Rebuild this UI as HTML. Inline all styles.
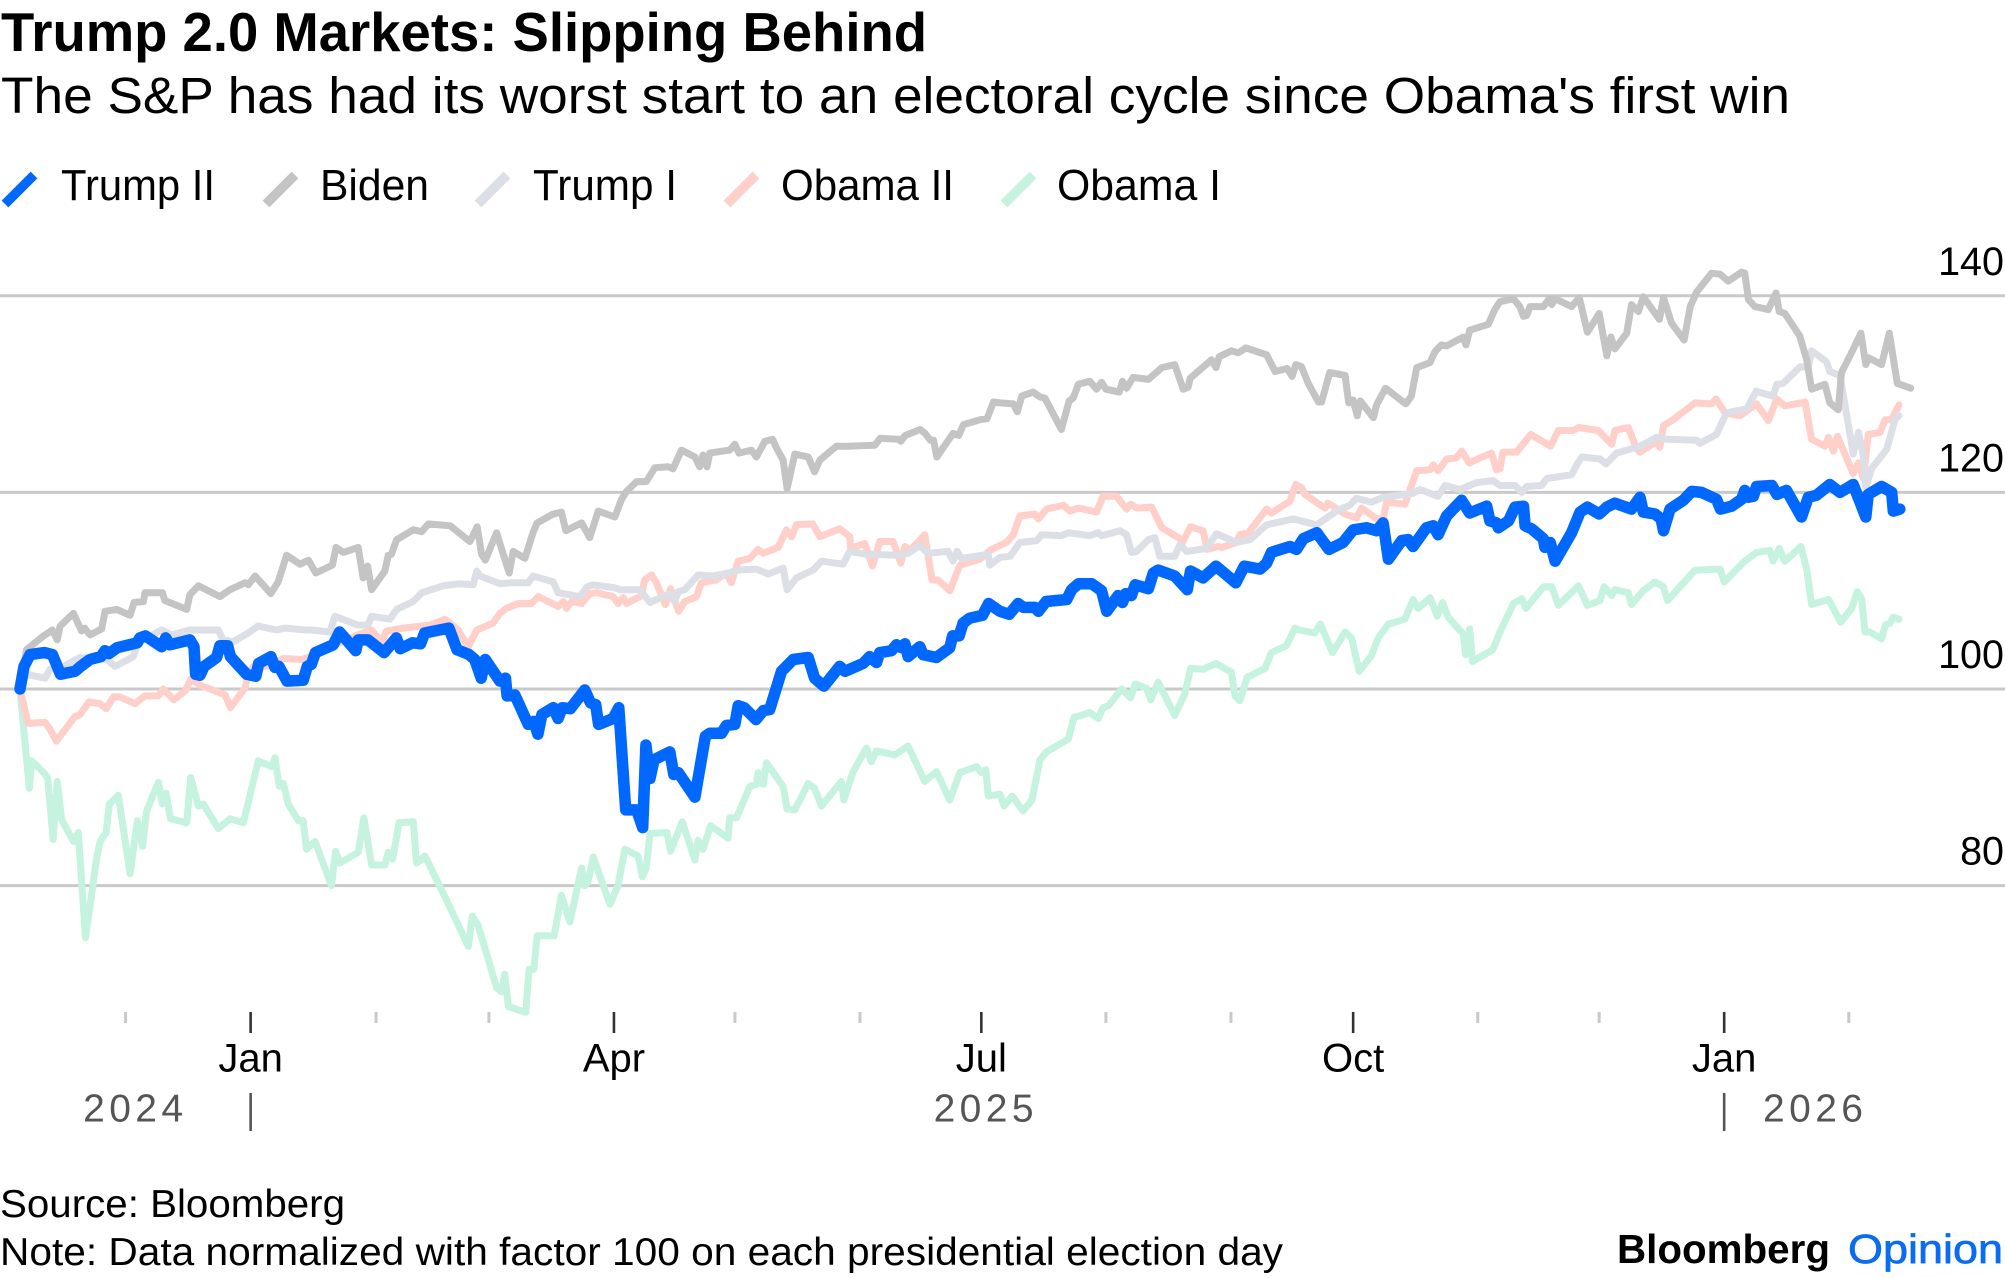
<!DOCTYPE html>
<html lang="en">
<head>
<meta charset="utf-8">
<title>Trump 2.0 Markets: Slipping Behind</title>
<style>
html,body{margin:0;padding:0;background:#fff;width:2005px;height:1278px;overflow:hidden}
svg{display:block}
text{font-family:"Liberation Sans",sans-serif}
</style>
</head>
<body>
<svg id="chart" xmlns="http://www.w3.org/2000/svg" width="2005" height="1278" viewBox="0 0 2005 1278">
  <rect x="0" y="0" width="2005" height="1278" fill="#fff"/>
  <text x="1" y="51" font-size="55" font-weight="700" fill="#000" textLength="926" lengthAdjust="spacingAndGlyphs">Trump 2.0 Markets: Slipping Behind</text>
  <text x="1" y="113" font-size="51" fill="#000" textLength="1789" lengthAdjust="spacingAndGlyphs">The S&amp;P has had its worst start to an electoral cycle since Obama's first win</text>

  <g>
    <g>
      <line x1="5" y1="204" x2="34" y2="175" stroke="#0068ff" stroke-width="9.5"/>
      <text x="61" y="200" font-size="44" textLength="154" lengthAdjust="spacingAndGlyphs">Trump II</text>
    </g>
    <g>
      <line x1="266" y1="204" x2="295" y2="175" stroke="#c4c4c4" stroke-width="9.5"/>
      <text x="320" y="200" font-size="44" textLength="109" lengthAdjust="spacingAndGlyphs">Biden</text>
    </g>
    <g>
      <line x1="478" y1="204" x2="507" y2="175" stroke="#dcdfe5" stroke-width="9.5"/>
      <text x="533" y="200" font-size="44" textLength="144" lengthAdjust="spacingAndGlyphs">Trump I</text>
    </g>
    <g>
      <line x1="727" y1="204" x2="756" y2="175" stroke="#ffcfca" stroke-width="9.5"/>
      <text x="781" y="200" font-size="44" textLength="173" lengthAdjust="spacingAndGlyphs">Obama II</text>
    </g>
    <g>
      <line x1="1004" y1="204" x2="1033" y2="175" stroke="#c6f2e0" stroke-width="9.5"/>
      <text x="1057" y="200" font-size="44" textLength="164" lengthAdjust="spacingAndGlyphs">Obama I</text>
    </g>
  </g>

  <g id="grid"></g>
  <g id="ylabels"></g>
  <g id="series"></g>
  <g id="xaxis"></g>

  <text x="0" y="1217" font-size="39" fill="#000" textLength="345" lengthAdjust="spacingAndGlyphs">Source: Bloomberg</text>
  <text x="0" y="1265" font-size="39" fill="#000" textLength="1283" lengthAdjust="spacingAndGlyphs">Note: Data normalized with factor 100 on each presidential election day</text>
  <text x="1617" y="1263" font-size="41" font-weight="700" fill="#000" textLength="213" lengthAdjust="spacingAndGlyphs">Bloomberg</text>
  <text x="1848" y="1263" font-size="41" font-weight="400" fill="#0a6cf0" stroke="#0a6cf0" stroke-width="0.7" textLength="155" lengthAdjust="spacingAndGlyphs">Opinion</text>
</svg>
<script>
// Days elapsed since the election day, and the index value on that day.
const obama1Days=[0,0.7,2.3,2.9,5.8,6.8,8.2,9.2,10.3,13.2,14.4,16.2,18.9,19.8,21.3,22.1,24.3,27.2,29,30.3,31.3,34.2,35.2,36.1,37.2,41.2,42.2,44.1,45.3,49,51.9,55.2,58.9,62.2,63,64.1,65.1,66.3,68.8,70,70.8,72.9,77,78,79.1,83.6,85,86.9,90.2,91,92.1,93.7,97.2,98,100.1,105.8,110.8,111.8,113.2,117.8,119,119.8,120.7,125,125.8,127,127.8,132,133.8,135.9,138.8,139.6,140.4,141.7,145.8,147.8,149.5,152.8,153.8,154.8,155.7,159.9,160.8,163.7,166.8,167.6,168.8,170.7,175,175.4,177.1,180.4,182,182.4,183.7,184.5,188.6,189.6,191.5,194.8,196.4,198.1,203,203.6,205.9,209.2,210.4,211.7,216.2,219.5,223.6,226.5,229.8,232.3,236.4,237.6,238.7,239.3,242.2,243.2,245.2,247.9,250.1,252.1,253.7,259.1,260.5,264.4,266.5,267.7,269,272.3,274.5,275.6,278.4,279.5,281.3,285.4,287.9,289.3,292.4,295.6,299.4,300.3,301.5,303.3,307.7,309.3,313,315.1,316.3,320,321.4,324.4,327.5,329.1,331,334,335.7,338.2,342.3,344.3,345.6,348.5,350.3,351.6,353,356.7,357.3,358.3,359,364,365.8,369.1,371.2,372.2,376.5,378.6,380.2,385.2,387.4,390.5,391.5,393.4,394.2,397.5,398.3,401.2,404.1,406.2,407.2,414,420.2,421.2,426,429.2,432.5,433.3,434.8,436.2,440.2,441.6,442.8,447,450,452.7,454.1,455.2,456,457.2,460.1,461,462.2,463,464.4];
const obama1Values=[100,96.9,89.9,92.7,91.5,91,84.7,90.6,86.7,84.5,85.4,74.7,82.7,84.5,85.4,88.3,89.2,81.2,86.6,84,87.6,90.5,88.3,89.4,86.8,86.4,91,88.1,88.3,85.8,86.8,86.4,92.7,92.1,93,90.1,90.4,88.3,86.6,86.6,83.7,84.5,80,83.5,82.3,83.4,86.9,82.1,82.1,83.4,82.7,86.4,86.5,82.3,83,78.2,73.8,76.9,76,69.6,69.2,71,67.7,67.1,71.5,71.5,74.9,74.9,79,76.3,81.8,80,80.4,82.9,78.1,80,83.7,83,80.9,81.8,85.3,85.4,83.5,86.5,82.6,84.6,83.7,86.1,84.8,86.9,86.9,90.1,90.3,91.5,90.3,92.5,90.1,87.8,87.7,90.4,89.9,88.1,90.6,88.7,91.6,94,92.6,93.7,93.3,94.2,90.6,91.6,88.7,91.5,92.1,91.5,91.8,89.1,89.3,88.1,89.1,87.6,88.7,92.8,93.6,94.9,97.1,97.6,97,98.1,98.3,100,99.1,100.5,100.1,98.9,100.7,97.3,99.5,102.1,102,102.6,101.7,99.3,98.8,101.2,102.1,103.7,104.4,106.2,106,105.7,106.6,103.7,105.8,105.2,101.8,103.4,105.2,106.6,107.1,109.1,108.2,109.3,107.4,108.8,107.3,105.6,103.5,106.1,102.8,104,105.8,108.7,109.2,108.2,110.4,110.4,108.5,110.5,108.5,109,110.4,109.5,110.1,109.8,108.6,110,110.9,110.4,109,112.1,112.2,110.9,112.9,113.9,114.1,113,114.3,113,114.5,112.2,108.6,109.1,106.8,108.2,109.9,109.2,105.8,105.8,105.1,106.5,106.7,107.3,107.1];

const obama2Days=[0,2,6.2,7.3,9,13.6,14.8,17.1,19.8,21.3,23.1,24.7,28.4,30.9,34.2,35.4,38,40.8,42.2,44.5,50.7,52,55.6,56.4,57.7,61,65,69.6,71.7,79,84,86.9,89.4,90.6,94.7,101.3,105,108.3,110.8,112.9,116.9,118.6,120.2,123.1,126.4,128.1,133,134.3,135.1,136.3,138.8,140.8,142.5,146.6,147.8,149.1,149.9,153.6,154.4,156.1,157.3,159.5,160.8,162.8,164.3,167.2,168.4,172.1,174.6,175.8,177.5,180.4,182.4,183.7,187.4,189.4,190.7,191.9,195.9,197.7,202.6,205.1,205.3,208.8,210.7,212.5,215.8,217.7,218.7,219.8,223.6,225.4,226.9,229.8,232.3,237.2,240.1,242.2,243.8,245.5,247.1,250.8,251.7,253.7,257.9,259.5,261.6,266.1,267.7,271,273.5,274.5,276,279.7,282.2,286.7,287.3,289.3,292.4,293.4,296.2,297,300.7,301.5,303.6,308.1,309.3,313.9,315.3,316.7,317.6,322.5,323.3,327.5,330.3,331.6,335.3,336.9,337.8,342.3,345.2,348.5,349.3,350.5,352.6,355,356.3,358.2,360.8,363.7,364.9,365.8,366.5,369.9,373.4,378.3,380.2,383.9,385.2,390.1,393.4,394.2,397.5,399.6,400.4,404.5,405.3,406.2,408.6,414,418.1,419.2,421.4,425.1,429.2,432.1,434.2,436.2,441.2,442.8,446.1,447,448.2,449.2,453.1,454.4,455.6,456.8,459.7,461,462.6,464.4];
const obama2Values=[100,96.5,96.6,96,94.7,97.2,97.4,98.7,98.5,98,99.2,99.2,98.5,99.3,99.3,100,98.9,99.8,101,100.4,99.4,98.1,100.1,101.6,102.3,102.3,103.1,103,103.3,104.7,105.6,106,104.8,105.9,106.2,106.5,107.1,106,104.3,106,106.7,107.7,108.2,108.7,108.7,109.4,108.4,108.9,108.2,108.9,108.7,109.7,109.8,109.4,108.7,109.3,108.7,109.5,111.1,111.6,110.8,108.6,110.2,107.9,108.9,109.4,110.8,111.1,111.8,110.8,113,113.3,114.2,113.8,114.4,116.2,115.5,116.7,116.8,115.5,116.3,115.5,114.3,114.8,112.5,115,115,112.8,114.5,114,115.7,111.1,111.1,110,112.6,113.2,114.2,114.6,114.9,115.7,117.6,117.8,117.3,118.3,118.7,118.1,118.4,118,119.6,119.6,118.3,118.8,118.4,118.5,116.4,115.3,114.9,116.5,116.1,114.2,114.5,114.4,114.9,115.7,115.9,118.3,117.9,119.1,120.8,120.5,119.8,118.4,118.9,117.8,117.4,118.4,117.3,117.3,119,118.8,122.2,122.3,122.8,122.2,123.4,123.5,124.2,123,123.5,124,122.3,122.4,124.1,124.1,125.9,124.7,126.3,126.3,126.6,126.3,124.9,126.3,126.6,124.4,124.1,125.2,124.6,126.8,127.4,129.1,129,129.5,128.1,127.8,129,127.3,129.5,128.8,129.2,125.4,124.7,125.6,124.2,125.7,121.9,123,121.4,125.9,126.1,127.4,127.4,128.9];

const trump1Days=[0,1.6,6.2,7.4,10.7,14.8,21.4,23.5,28,29.2,35,37.5,42,49,50.2,52.7,56.4,58.8,63.4,65.5,70.8,72,76.6,77.8,83.6,86,86.9,91.4,93.1,97.2,99.3,104.6,108.3,112,112.9,113.7,118.6,121.1,125.6,126.8,131.8,133,138.4,140.2,141.7,147,148.3,153.2,155.7,160.6,161.8,162.7,164.3,167.6,171.3,175.4,177,182,184.9,188.6,189.6,191.9,196,198.1,203.4,205.1,209.2,217,219.5,222.4,224.4,229.4,230.6,231.6,232.7,239.3,239.7,242.2,244.7,247.1,251.3,252.5,257.4,259.1,264.4,266.5,267.3,271.9,273.5,274.7,276,278.9,280.5,281.7,285.4,286.7,288.3,293.3,295.7,300.7,304,308.1,314.7,320.5,325.4,328.7,330.3,334,336.9,344.3,346,350.5,352.2,355.9,360,364.1,365.8,369.5,371.2,372.4,376.1,377.3,383.5,384.9,386,390.5,392,394.6,400.4,404.5,407,414.4,415.2,419.3,421.8,426.8,429.1,433.3,434.2,435.8,440,442,442.8,446.5,447.3,449.8,451.5,453.1,454.4,455.6,456.2,457.6,461.4,463.4,464.4];
const trump1Values=[100,101.5,101.1,102,102.3,103.2,103,102.3,103.3,104.7,106,105.5,106,106,105,104.8,105.7,106.4,106,106.2,106,106,105.8,107.4,106.5,106.5,107.4,107.1,108.1,108.9,109.8,110.5,110.7,110.6,112,111.5,110.7,110.8,110.8,111.5,110.9,109.8,109.4,110.4,110.6,110.3,110.1,110.1,108.8,109.7,108.9,109.9,110.1,111.6,111.5,111.8,112.1,112.2,111.7,112.3,110.1,111.3,112.1,113,112.7,114,113.7,113.6,113.8,114.6,113.8,114,113,114,113.3,113.7,112.6,113.4,113.5,114.9,115.1,115.7,115.6,115.9,115.6,115.9,115.6,116.1,115.7,113.9,114,115.2,115.4,113.5,113.5,114.7,114,114.3,115.8,114.9,115.2,116.7,117.3,116.7,118.1,118.7,119.4,119,119.5,119.9,120.3,119.6,120.7,120.3,121,121.2,120.7,120.7,120,120.6,120.7,121.4,121.8,122.9,123.6,123.4,122.9,124,124.7,125.6,125.4,125.3,125,125.9,128.1,128.5,130.3,129.8,131,131.1,132.8,132.7,134.4,133.3,132.3,131.9,127.8,123.9,126.1,123.7,120.5,122.4,124.4,127.4,127.8];

const bidenDays=[0,1.6,5.8,8,9.2,9.9,13.2,15.2,16,17.3,20.2,21,23.9,27.2,28.2,30.5,30.9,35.2,35.8,41.2,42,44.1,49.4,51.9,55.6,56.4,58.1,62,63.8,65.9,69.2,71.3,73.1,77.2,78.1,79.9,83.6,84.8,85.9,86.9,90.2,91,91.8,93.1,97.2,99.3,100.9,106.3,111.2,113,114.1,115,117.8,118.6,120.9,121.9,124.8,126.8,127.8,131.8,133.8,134.9,138.8,140.8,142.9,147,148.7,149.9,152.4,154.8,156.9,160.2,161.4,163.5,166.8,168,168.8,169.8,170.5,175.4,176.7,177.7,180.8,182,184.1,186,187,188.6,189.6,191.5,194.8,196.4,197.7,201.8,204.3,211.3,212.6,217.1,217.7,218.8,222.5,223.7,225,225.8,226.6,230.6,232,233.2,237.3,239,240.6,242.2,245.5,246.5,247.6,250.4,252.1,253.3,257.4,259.3,260.3,261.6,264.4,266.1,267.3,268.4,271.7,272.5,273.5,275.1,278.9,282.2,285.4,287.5,288.7,289.2,294.5,295.6,296.4,299.4,301.1,303,308.1,310.2,313.2,314.4,315.3,316.7,318.4,320.9,321.7,323.7,327.5,328.4,329.5,330.5,331.3,334.5,335.3,337.5,342.5,343.9,345.2,348.5,349.7,351.3,352.6,356.7,357.4,358.3,362.9,364.5,365.8,369.1,370.7,371.6,372.4,373.2,376.5,378,378.6,379.4,383.5,385.4,387.4,390.3,392.2,393.2,394.2,397.1,398.3,400,401.2,405.2,406.2,408.2,411.3,412.8,414.4,418.1,420.2,422.2,425.5,426.3,427.2,428.8,432.1,434,434.8,436.2,439.9,441.6,442.8,446.1,447.3,449.4,450.2,452.3,455,456.2,456.8,460.1,462,464,467.3];
const bidenValues=[100,104,105.4,106,105,106.4,107.7,105.9,106.2,105.5,106.1,107.9,108.1,107.5,108.8,108.9,109.8,109.8,109,108.1,109.6,110.5,109.4,110.1,110.8,110.6,111.5,109.7,110.9,113.6,112.7,113.1,111.8,112.6,114.4,113.9,114.4,111.3,112.5,110.1,112,113.6,113.7,115.2,116.2,116,116.8,116.6,115,116.5,113.7,113.1,115.9,114.8,111.8,114,113.3,115.9,116.9,117.8,118,116.1,116.9,115.4,118.1,117.5,119.3,120.1,121.1,121.1,122.5,122.6,122.4,124.3,123.6,122.6,123.8,122.6,124,124.3,124.9,124,124.3,123.6,125.2,125.4,124.5,123.3,120.4,123.9,123.6,122.1,123.3,124.7,124.7,124.8,125.5,125.4,125.2,125.8,126.4,126,125.3,125.3,123.6,126,125.8,126.9,127.4,127.5,129.2,129.1,129,128.2,129.8,130.2,129.7,129.6,126.4,129.3,129.6,131,131.3,130.5,131.2,130.5,130.2,131.3,130.6,131.7,131.5,132.7,133,130.5,130.7,131.6,133.5,132.7,133.8,134.4,134.2,134.7,134,132.3,132.6,131.8,133,132.8,131.1,129.2,129.2,132.2,131.9,129.1,129.4,127.8,129.3,127.6,128.9,130.6,129,129.8,132.7,133.2,134.3,135,134.9,135.8,135,136.5,137.1,138.6,139.4,139.7,138.9,137.9,138,138.9,138.9,139.7,139.1,139.7,138.9,139.8,136.3,138.2,133.9,135.8,134.6,136.2,139.1,138.4,139.9,137.6,139.8,137.2,135.5,138.9,140.4,142.3,142.2,141.5,142.4,142.3,139.6,138.9,138.6,140.3,138.4,138.2,135.9,133.5,130.5,131,129.1,128.4,132.2,133.9,136.2,133,133.7,133,136.2,131.1,130.6];

const trump2Days=[0,1,2.5,6,8,10,13.6,15,17.3,20,21,22,24,29,29.6,31,35,36,37,42,43,43.4,44.5,45.5,48.6,49.4,51.3,52,56,58.3,59,62,63,64,66,70,71,72,73,77.4,79,83,83.6,86,90,93,94,97,99,100,106,108,111,112.4,114,115,118.6,120,120.4,122.3,125.6,127,128,129,131.8,133,134,136,139.6,141,142.3,143,146.6,148,149.7,152.4,153.9,154.7,155.7,156.7,160.6,161.6,162.7,166.8,169.4,170.5,173.4,174.6,176.7,177.5,179,181.9,183.7,185.3,188.2,191.1,194.8,196.4,198.7,202.6,203.9,208.4,210,211.7,212.5,215.4,216.6,217.9,218.7,219.5,222.4,223.2,226.5,229.8,230.5,232.1,233.1,234.7,237.9,239.4,242.2,244.5,246.7,248,250.8,251.7,253.6,258.7,259.9,261.6,264.9,267.3,268.6,271.4,272.5,273.3,274.7,275.6,278.9,280.1,281.3,285.4,288.5,289.3,292.4,295.6,300.5,302.6,306.5,308.1,309.3,313.9,315.5,317.2,320.5,323.5,327,329.5,332.8,335.3,336.9,338.2,341.5,343.1,344.3,347.6,349.3,350.5,352.6,356.3,358.3,362.5,363.3,364.9,365.4,367.9,369.5,371.6,372,373.6,376.5,376.9,378.2,379.4,383.5,385.6,387.4,390.3,392.2,394.2,398.3,400.4,401.2,404.1,405.6,406.2,407.8,411.1,413.2,415.6,419.3,420.3,423,425.5,426.3,427.2,428.4,429.2,433,434.2,436.6,440.3,442,444,447.3,449.8,453.1,456.2,456.8,460.1,462.6,463,464.6];
const trump2Values=[100,102.3,103.5,103.7,103.5,101.5,101.8,102.3,103,103.3,103.9,103.6,104.2,104.7,105.2,105.4,104.3,105.2,104.5,105,104.3,101.5,101.4,102.3,103.2,104.4,104.4,103.3,101.5,101.3,102.6,103.3,102.2,102.3,100.8,100.9,102.3,102.5,103.7,104.5,105.8,103.9,105,105,103.7,105.2,104.1,104.7,104.6,105.7,106.2,104,103.5,103,101.1,103,100.8,101.1,99.3,99.4,96.4,96.7,95.4,97.4,98.1,97,98.1,98,99.9,98.6,98.4,96.4,97,98.1,87.7,87.7,85.9,94.3,90.9,92.8,93.6,91.3,91.5,89,95.2,95.5,95.5,96.3,96.4,98.3,98.1,96.9,97.8,97.9,101.8,103,103.2,101.1,100.3,102.3,101.8,102.6,103.3,102.7,103.7,103.9,104.5,104.2,104.6,103.3,104.3,103.5,103.2,104.2,105.4,105.4,106.7,107.2,107.5,108.7,107.9,107.6,108.7,108.3,108.3,107.9,108.9,109.1,110.1,110.7,110.7,110,107.9,109.5,108.8,109.7,109.5,110.6,110.2,111.8,112.1,111.5,110.1,112,111.3,112.5,110.8,112.5,112.2,112.8,113.9,114.5,114.2,115.3,115.9,114.2,114.9,116.2,116.4,116.1,116.9,113.2,115.1,115.2,114.5,116.4,116.6,115.7,117.6,119.2,117.9,118.6,117.1,116.9,116.4,117.1,118.5,118.6,116.6,116.3,115.3,114.4,114.9,113,115.9,118,118.5,117.8,118.5,118.9,118.3,119.5,118,117.8,117.3,116.1,118.3,119.2,120.1,120,119.3,118.3,118.6,119.3,120.2,119.5,119.6,120.6,120.7,119.8,120.2,117.5,119.5,119.7,120.8,120,120.8,117.5,119.8,120.6,120,118.1,118.3];

const gridValues=[140,120,100,80];
const gridLabels=['140','120','100','80'];
const minorTickDays=[26.1,88,115.9,176.7,207.6,268.4,299.3,360.3,390.3,452];
const majorTickDays=[57,146.8,237.6,329.5,421.2];
const majorTickLabels=['Jan','Apr','Jul','Oct','Jan'];
const yearBreakDays=[57,421.2];
const yearLabels=['2024','2025','2026'];
const yearLabelDays=[15.6,225.8,430.8];

const SVGNS='http://www.w3.org/2000/svg';
function xScale(day){return 20+4.046*day;}
function yScale(value){return 689-(value-100)*9.83;}
function make(tag,parent,attrs){
  const el=document.createElementNS(SVGNS,tag);
  for(const k in attrs){el.setAttribute(k,attrs[k]);}
  parent.appendChild(el);
  return el;
}
const gridG=document.getElementById('grid');
const ylabG=document.getElementById('ylabels');
gridValues.forEach(function(v,i){
  const ln=make('line',gridG,{x1:0,x2:2005,y1:yScale(v),y2:yScale(v),stroke:'#c9c9c9','stroke-width':3});
  
  
  const t=make('text',ylabG,{x:2004,y:yScale(v)-21,'font-size':39.5,'text-anchor':'end',fill:'#000'});
  
  
  t.textContent=gridLabels[i];
});

const seriesG=document.getElementById('series');
function drawSeries(name,days,values,color,width){
  let d='';
  for(let i=0;i<days.length;i++){
    d+=(i?'L':'M')+xScale(days[i]).toFixed(1)+' '+yScale(values[i]).toFixed(1);
  }
  const p=make('path',seriesG,{d:d,fill:'none',stroke:color,'stroke-width':width,'stroke-linejoin':'round','stroke-linecap':'round'});
  
  
}
drawSeries('line-obama-i',obama1Days,obama1Values,'#c6f2e0',7);
drawSeries('line-obama-ii',obama2Days,obama2Values,'#ffcfca',7);
drawSeries('line-trump-i',trump1Days,trump1Values,'#dcdfe5',7);
drawSeries('line-biden',bidenDays,bidenValues,'#c4c4c4',7);
drawSeries('line-trump-ii',trump2Days,trump2Values,'#0068ff',11.5);

const xG=document.getElementById('xaxis');
minorTickDays.forEach(function(dy){
  const ln=make('line',xG,{x1:xScale(dy),x2:xScale(dy),y1:1012,y2:1023,stroke:'#c9c9c9','stroke-width':3});
  
  
});
majorTickDays.forEach(function(dy,i){
  const ln=make('line',xG,{x1:xScale(dy),x2:xScale(dy),y1:1012,y2:1033,stroke:'#333','stroke-width':2.6});
  
  
  const t=make('text',xG,{x:xScale(dy),y:1071.5,'font-size':40,'text-anchor':'middle',fill:'#000'});
  
  
  t.textContent=majorTickLabels[i];
});
yearBreakDays.forEach(function(dy){
  const ln=make('line',xG,{x1:xScale(dy),x2:xScale(dy),y1:1093,y2:1131,stroke:'#555','stroke-width':2.6});
  
  
});
yearLabels.forEach(function(lbl,i){
  const t=make('text',xG,{x:xScale(yearLabelDays[i]),y:1121.5,'font-size':39,fill:'#555','letter-spacing':'4.4px'});
  
  
  t.textContent=lbl;
});
</script>
</body>
</html>
